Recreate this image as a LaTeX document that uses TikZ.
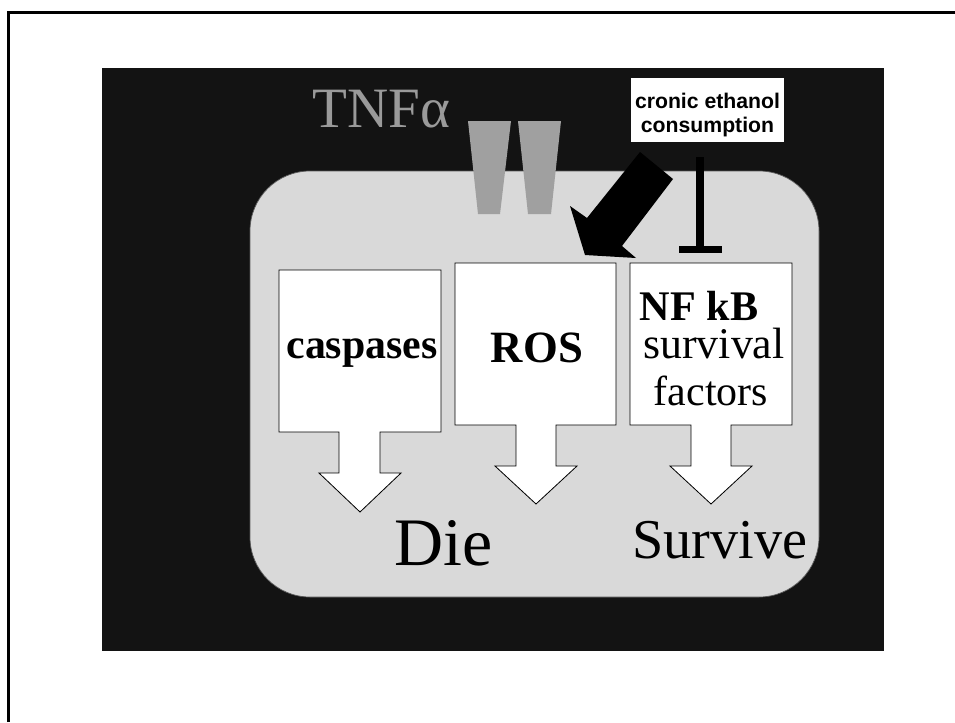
\documentclass[tikz,border=0pt]{standalone}
\usepackage{fontspec}
\setmainfont{Liberation Serif}
\newfontfamily\calloutfont{Liberation Sans}
\definecolor{bgblack}{HTML}{131313}
\definecolor{cellgray}{HTML}{D9D9D9}
\definecolor{trapgray}{HTML}{A0A0A0}
\definecolor{tnfgray}{HTML}{9A9A9A}
\begin{document}
\begin{tikzpicture}[x=0.03cm,y=-0.03cm,
  blockarrow/.style={fill=white,draw=black,line width=0.7pt,line join=miter},
  boldlabel/.style={inner sep=0,anchor=base,font=\bfseries\fontsize{#1}{#1}\selectfont},
  plainlabel/.style={inner sep=0,anchor=base,font=\fontsize{#1}{#1}\selectfont},
  inhibitline/.style={line width=6.8pt},
]
\useasboundingbox (0,0) rectangle (955,722);
\fill[white] (0,0) rectangle (955,722);
% outer frame (left and top edges)
\draw[line width=2.2pt] (8.7,722) -- (8.7,12.3) -- (955,12.3);
% black slide
\fill[bgblack] (102,68) rectangle (884,651);
% cell
\draw[fill=cellgray,draw=gray!70!black,line width=0.6pt,rounded corners=1.8cm]
  (250,171) rectangle (819,597);
% TNF receptors
\fill[trapgray] (468,121) -- (511,121) -- (500,214) -- (478,214) -- cycle;
\fill[trapgray] (518,121) -- (561,121) -- (551,214) -- (528,214) -- cycle;
\node[plainlabel=48.7pt,anchor=base west,text=tnfgray] (tnf) at (312,127) {TNFα};
% block arrows
\draw[blockarrow] (279,270) -- (441,270) -- (441,432) -- (380,432) -- (380,473)
  -- (401,473) -- (360,512) -- (319,473) -- (339,473) -- (339,432) -- (279,432) -- cycle;
\draw[blockarrow] (455,263) -- (616,263) -- (616,425) -- (556,425) -- (556,466)
  -- (577,466) -- (536,504) -- (495,466) -- (516,466) -- (516,425) -- (455,425) -- cycle;
\draw[blockarrow] (630,263) -- (792,263) -- (792,425) -- (731,425) -- (731,466)
  -- (752,466) -- (711,504) -- (670,466) -- (691,466) -- (691,425) -- (630,425) -- cycle;
% labels
\node[boldlabel=35.7pt] (casp) at (362,358) {caspases};
\node[boldlabel=38.2pt] (ros) at (537,362) {ROS};
\node[boldlabel=36pt] (nfkb) at (699,320) {NF kB};
\node[plainlabel=37.4pt] (surv) at (714,358) {survival};
\node[plainlabel=35.8pt] (fact) at (711,405) {factors};
\node[plainlabel=58pt,anchor=base west] (die) at (394,565) {Die};
\node[plainlabel=48pt,anchor=base west] (survive) at (632,558) {Survive};
% ethanol callout
\node[fill=white,inner sep=0,minimum width=4.59cm,minimum height=1.92cm] (callout) at (707.5,110) {};
\node[inner sep=0,align=center,font=\calloutfont\bfseries\fontsize{18.1pt}{21.3pt}\selectfont]
  (callouttext) at (707.5,115) {cronic ethanol\\consumption};
% big black arrow toward ROS
\fill[black] (640,152) -- (673,179) -- (622,246) -- (636,258) -- (585,255)
  -- (570,206) -- (587,218) -- cycle;
% inhibition of NF kB
\coordinate (tstart) at (700,157);
\coordinate (tbar) at (700,249.5);
\coordinate (tbarl) at (679,249.5);
\coordinate (tbarr) at (722,249.5);
\draw[inhibitline] (tstart) -- (tbar);
\draw[line width=6pt] (tbarl) -- (tbarr);
\end{tikzpicture}
\end{document}
